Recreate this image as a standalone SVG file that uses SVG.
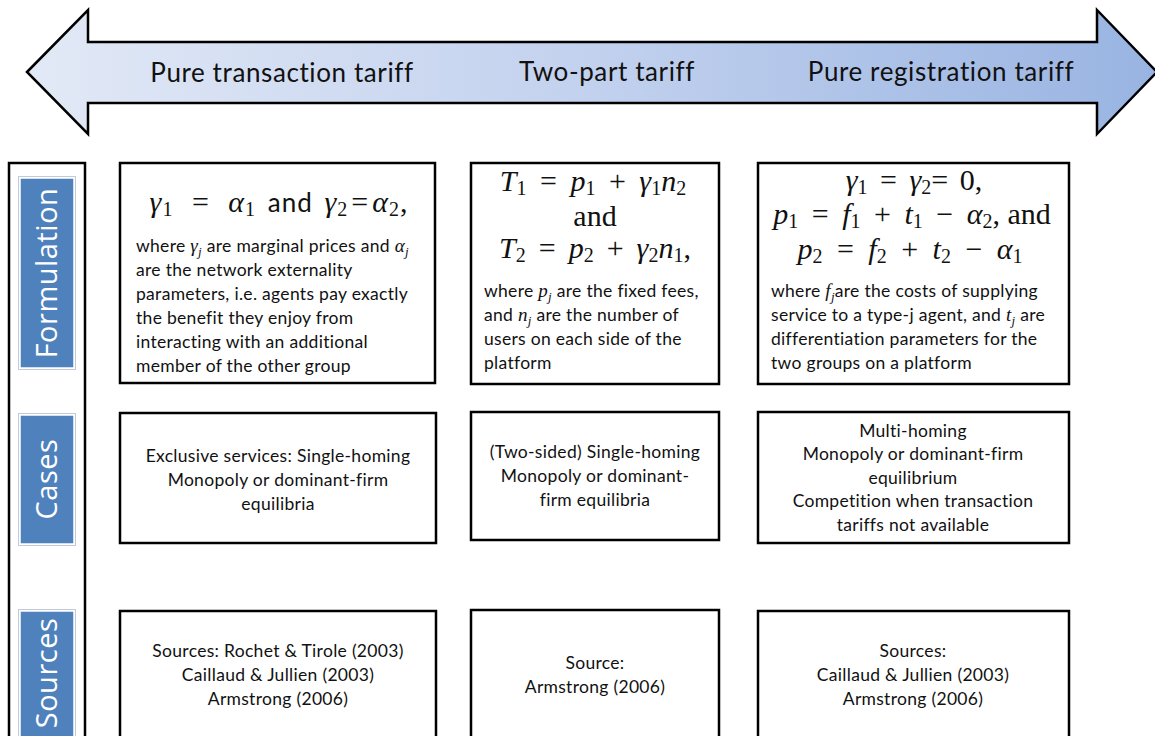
<svg xmlns="http://www.w3.org/2000/svg" width="1155" height="736" viewBox="0 0 1155 736">
<style>
.box{fill:#fff;stroke:#000;stroke-width:2.5}
.lab{fill:#4f81bd;stroke:#fff;stroke-width:1.5}
.labo{fill:none;stroke:#c3cad6;stroke-width:1}
.lt{font-family:"Open Sans","Liberation Sans",sans-serif;font-size:29px;letter-spacing:0.5px;fill:#fff;text-anchor:middle}
.hd{font-family:Lato,"Liberation Sans",sans-serif;font-size:26px;letter-spacing:0.6px;fill:#111;text-anchor:middle}
.tx{font-family:Lato,"Liberation Sans",sans-serif;font-size:17.5px;letter-spacing:0.3px;fill:#111}
.c{text-anchor:middle}
.m{font-family:"Liberation Serif","DejaVu Serif",serif;font-size:30px;fill:#111;text-anchor:middle}
.i{font-style:italic}
.s{font-size:20px}
.v{font-family:"Liberation Serif",serif;font-style:italic;font-size:19px}
.vs{font-family:"Liberation Serif",serif;font-style:italic;font-size:13px}
</style>
<defs>
<linearGradient id="g" x1="0" y1="0" x2="1" y2="0">
<stop offset="0" stop-color="#e2e9f6"/>
<stop offset="0.5" stop-color="#c2d1ee"/>
<stop offset="1" stop-color="#99b4e2"/>
</linearGradient>
</defs>
<g id="arrow">
<polygon points="27,72 88,10 88,42 1097,42 1097,10 1157,72 1097,134 1097,103 88,103 88,134" fill="url(#g)" stroke="#000" stroke-width="2.5" stroke-linejoin="miter"/>
<text class="hd" x="282" y="82">Pure transaction tariff</text>
<text class="hd" x="607" y="81">Two-part tariff</text>
<text class="hd" x="941" y="81">Pure registration tariff</text>
</g>
<g id="frame">
<rect x="9" y="163" width="76" height="590" fill="none" stroke="#000" stroke-width="2.5"/>
</g>
<g id="label-formulation">
<rect class="labo" x="18.5" y="176.5" width="57" height="193"/>
<rect class="lab" x="20" y="178" width="54" height="190"/>
<text class="lt" transform="translate(57,273) rotate(-90)">Formulation</text>
</g>
<g id="label-cases">
<rect class="labo" x="18.5" y="413.5" width="57" height="132"/>
<rect class="lab" x="20" y="415" width="54" height="129"/>
<text class="lt" transform="translate(57,479) rotate(-90)">Cases</text>
</g>
<g id="label-sources">
<rect class="labo" x="18.5" y="609.5" width="57" height="140"/>
<rect class="lab" x="20" y="611" width="54" height="137"/>
<text class="lt" transform="translate(57,673) rotate(-90)" letter-spacing="0">Sources</text>
</g>
<g id="f1">
<rect class="box" x="120" y="163" width="315" height="220"/>
<text class="m" x="279" y="212" letter-spacing="1"><tspan class="i">γ</tspan><tspan class="s" dy="4">1</tspan><tspan dy="-4" dx="10"> = </tspan><tspan class="i" dx="10">α</tspan><tspan class="s" dy="4">1</tspan><tspan dy="-4" dx="4" font-family="Lato,'Liberation Sans',sans-serif" font-size="26"> and </tspan><tspan class="i" dx="4">γ</tspan><tspan class="s" dy="4">2</tspan><tspan dy="-4" dx="3">=</tspan><tspan class="i" dx="3">α</tspan><tspan class="s" dy="4">2</tspan><tspan dy="-4">,</tspan></text>
<text class="tx" x="136" y="252">where <tspan class="v">γ</tspan><tspan class="vs" dy="4">j</tspan><tspan dy="-4"> are marginal prices and </tspan><tspan class="v">α</tspan><tspan class="vs" dy="4">j</tspan></text>
<text class="tx" x="136" y="276">are the network externality</text>
<text class="tx" x="136" y="300">parameters, i.e. agents pay exactly</text>
<text class="tx" x="136" y="324">the benefit they enjoy from</text>
<text class="tx" x="136" y="348">interacting with an additional</text>
<text class="tx" x="136" y="372">member of the other group</text>
</g>
<g id="f2">
<rect class="box" x="471" y="163" width="248" height="221"/>
<text class="m" x="593" y="191"><tspan class="i">T</tspan><tspan class="s" dy="4">1</tspan><tspan dy="-4" dx="6"> = </tspan><tspan class="i" dx="6">p</tspan><tspan class="s" dy="4">1</tspan><tspan dy="-4" dx="6"> + </tspan><tspan class="i" dx="6">γ</tspan><tspan class="s" dy="4">1</tspan><tspan dy="-4" class="i">n</tspan><tspan class="s" dy="4">2</tspan></text>
<text class="m" x="595" y="226">and</text>
<text class="m" x="595" y="258"><tspan class="i">T</tspan><tspan class="s" dy="4">2</tspan><tspan dy="-4" dx="5.5"> = </tspan><tspan class="i" dx="5.5">p</tspan><tspan class="s" dy="4">2</tspan><tspan dy="-4" dx="5.5"> + </tspan><tspan class="i" dx="5.5">γ</tspan><tspan class="s" dy="4">2</tspan><tspan dy="-4" class="i">n</tspan><tspan class="s" dy="4">1</tspan><tspan dy="-4">,</tspan></text>
<text class="tx" x="484" y="297">where <tspan class="v">p</tspan><tspan class="vs" dy="4">j</tspan><tspan dy="-4"> are the fixed fees,</tspan></text>
<text class="tx" x="484" y="321">and <tspan class="v">n</tspan><tspan class="vs" dy="4">j</tspan><tspan dy="-4"> are the number of</tspan></text>
<text class="tx" x="484" y="345">users on each side of the</text>
<text class="tx" x="484" y="369">platform</text>
</g>
<g id="f3">
<rect class="box" x="758" y="163" width="311" height="221"/>
<text class="m" x="914" y="190"><tspan class="i">γ</tspan><tspan class="s" dy="4">1</tspan><tspan dy="-4" dx="5"> = </tspan><tspan class="i" dx="5">γ</tspan><tspan class="s" dy="4">2</tspan><tspan dy="-4">=</tspan><tspan dx="4"> 0,</tspan></text>
<text class="m" x="912" y="224"><tspan class="i">p</tspan><tspan class="s" dy="4">1</tspan><tspan dy="-4" dx="6"> = </tspan><tspan class="i" dx="6">f</tspan><tspan class="s" dy="4">1</tspan><tspan dy="-4" dx="6"> + </tspan><tspan class="i" dx="6">t</tspan><tspan class="s" dy="4">1</tspan><tspan dy="-4" dx="6"> − </tspan><tspan class="i" dx="6">α</tspan><tspan class="s" dy="4">2</tspan><tspan dy="-4">, and</tspan></text>
<text class="m" x="910" y="259"><tspan class="i">p</tspan><tspan class="s" dy="4">2</tspan><tspan dy="-4" dx="7"> = </tspan><tspan class="i" dx="7">f</tspan><tspan class="s" dy="4">2</tspan><tspan dy="-4" dx="7"> + </tspan><tspan class="i" dx="7">t</tspan><tspan class="s" dy="4">2</tspan><tspan dy="-4" dx="7"> − </tspan><tspan class="i" dx="7">α</tspan><tspan class="s" dy="4">1</tspan></text>
<text class="tx" x="771" y="297">where <tspan class="v">f</tspan><tspan class="vs" dy="4">j</tspan><tspan dy="-4">are the costs of supplying</tspan></text>
<text class="tx" x="771" y="321">service to a type-j agent, and <tspan class="v">t</tspan><tspan class="vs" dy="4">j</tspan><tspan dy="-4"> are</tspan></text>
<text class="tx" x="771" y="345">differentiation parameters for the</text>
<text class="tx" x="771" y="369">two groups on a platform</text>
</g>
<g id="c1">
<rect class="box" x="120" y="413" width="316" height="130"/>
<text class="tx c" x="278" y="462">Exclusive services: Single-homing</text>
<text class="tx c" x="278" y="486">Monopoly or dominant-firm</text>
<text class="tx c" x="278" y="510">equilibria</text>
</g>
<g id="c2">
<rect class="box" x="471" y="412" width="248" height="128"/>
<text class="tx c" x="595" y="458">(Two-sided) Single-homing</text>
<text class="tx c" x="595" y="482">Monopoly or dominant-</text>
<text class="tx c" x="595" y="506">firm equilibria</text>
</g>
<g id="c3">
<rect class="box" x="758" y="412" width="311" height="131"/>
<text class="tx c" x="913" y="437">Multi-homing</text>
<text class="tx c" x="913" y="460">Monopoly or dominant-firm</text>
<text class="tx c" x="913" y="484">equilibrium</text>
<text class="tx c" x="913" y="507">Competition when transaction</text>
<text class="tx c" x="913" y="531">tariffs not available</text>
</g>
<g id="s1">
<rect class="box" x="120" y="611" width="316" height="140"/>
<text class="tx c" x="278" y="657">Sources: Rochet &amp; Tirole (2003)</text>
<text class="tx c" x="278" y="681">Caillaud &amp; Jullien (2003)</text>
<text class="tx c" x="278" y="705">Armstrong (2006)</text>
</g>
<g id="s2">
<rect class="box" x="471" y="610" width="248" height="140"/>
<text class="tx c" x="595" y="669">Source:</text>
<text class="tx c" x="595" y="693">Armstrong (2006)</text>
</g>
<g id="s3">
<rect class="box" x="758" y="611" width="311" height="140"/>
<text class="tx c" x="913" y="657">Sources:</text>
<text class="tx c" x="913" y="681">Caillaud &amp; Jullien (2003)</text>
<text class="tx c" x="913" y="705">Armstrong (2006)</text>
</g>
<g id="connectors"></g>
</svg>
